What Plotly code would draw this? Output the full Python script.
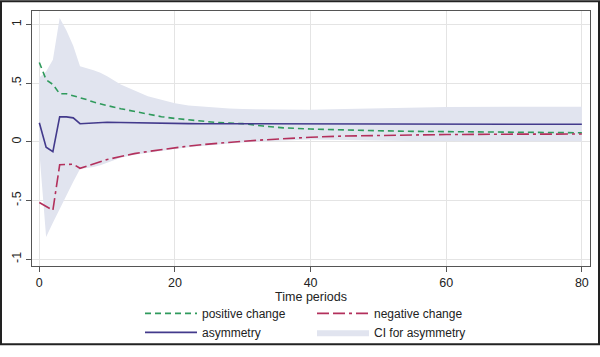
import plotly.graph_objects as go

# ---- data ----
periods = [0, 1, 2, 3, 4, 5, 6, 7, 8, 9, 10, 12, 14, 16, 18, 20, 22, 24, 26, 28,
           30, 33, 36, 40, 45, 50, 55, 60, 70, 80]
positive_change = [0.677, 0.53, 0.49, 0.41, 0.41, 0.395, 0.38, 0.36, 0.34, 0.322, 0.31,
                   0.283, 0.26, 0.235, 0.215, 0.2, 0.187, 0.175, 0.166, 0.16,
                   0.156, 0.135, 0.12, 0.11, 0.1, 0.095, 0.09, 0.087, 0.082, 0.078]
negative_change = [-0.517, -0.55, -0.583, -0.195, -0.19, -0.19, -0.225, -0.205, -0.185, -0.165, -0.15,
                   -0.125, -0.1, -0.082, -0.065, -0.05, -0.035, -0.023, -0.012, -0.003,
                   0.005, 0.017, 0.027, 0.04, 0.05, 0.055, 0.06, 0.063, 0.066, 0.067]
asymmetry = [0.163, -0.045, -0.084, 0.213, 0.213, 0.205, 0.155, 0.158, 0.16, 0.165, 0.168,
             0.165, 0.162, 0.16, 0.158, 0.157, 0.156, 0.155, 0.155, 0.155,
             0.155, 0.153, 0.152, 0.152, 0.151, 0.15, 0.15, 0.15, 0.15, 0.15]
ci_upper = [0.55, 0.6, 0.7, 1.056, 0.95, 0.82, 0.645, 0.63, 0.61, 0.59, 0.56,
            0.49, 0.44, 0.39, 0.36, 0.33, 0.31, 0.3, 0.29, 0.285,
            0.28, 0.277, 0.275, 0.275, 0.28, 0.287, 0.293, 0.298, 0.3, 0.3]
ci_lower = [-0.08, -0.81, -0.69, -0.57, -0.45, -0.34, -0.23, -0.225, -0.215, -0.2, -0.18,
            -0.135, -0.11, -0.092, -0.075, -0.06, -0.045, -0.033, -0.022, -0.013,
            -0.005, 0.005, 0.012, 0.02, 0.015, 0.01, 0.008, 0.007, 0.006, 0.005]

x_ticks = [0, 20, 40, 60, 80]
y_ticks = [-1, -0.5, 0, 0.5, 1]
y_tick_labels = ["-1", "-.5", "0", ".5", "1"]

GREEN = "#2f9a5c"
RED = "#b3305c"
PURPLE = "#433a8c"
BAND = "#e1e4ef"
FONT = "Liberation Sans, Arial, sans-serif"

fig = go.Figure()

fig.add_trace(go.Scatter(x=periods, y=ci_upper, mode="lines", line=dict(width=0),
                         showlegend=False, hoverinfo="skip"))
fig.add_trace(go.Scatter(x=periods, y=ci_lower, mode="lines", line=dict(width=0),
                         fill="tonexty", fillcolor=BAND, name="CI for asymmetry",
                         legend="legend2", legendrank=2))
fig.add_trace(go.Scatter(x=periods, y=positive_change, mode="lines", name="positive change",
                         line=dict(color=GREEN, width=1.6, dash="6px,4px"),
                         legend="legend", legendrank=1))
fig.add_trace(go.Scatter(x=periods, y=negative_change, mode="lines", name="negative change",
                         line=dict(color=RED, width=1.6, dash="12px,4px,12px,4px,3px,4px"),
                         legend="legend2", legendrank=1))
fig.add_trace(go.Scatter(x=periods, y=asymmetry, mode="lines", name="asymmetry",
                         line=dict(color=PURPLE, width=1.6),
                         legend="legend", legendrank=2))

W, H = 600, 357
ml, mr, mt, mb = 32, 10, 11, 82
pw, ph = W - ml - mr, H - mt - mb

legend_common = dict(orientation="v", yanchor="top", xanchor="left",
                     font=dict(family=FONT, size=12, color="#222"),
                     bgcolor="rgba(0,0,0,0)", borderwidth=0, itemwidth=52,
                     tracegroupgap=0, traceorder="normal")

fig.update_layout(
    width=W, height=H,
    margin=dict(l=ml, r=mr, t=mt, b=mb),
    paper_bgcolor="white", plot_bgcolor="white",
    font=dict(family=FONT, size=12, color="#222"),
    legend=dict(x=(140 - ml) / pw, y=1 - (309 - mt) / ph, **legend_common),
    legend2=dict(x=(312 - ml) / pw, y=1 - (309 - mt) / ph, **legend_common),
    xaxis=dict(range=[-1.08, 81.2], tickvals=x_ticks, showgrid=True, gridcolor="#e4e4e4",
               gridwidth=1, zeroline=False, showline=True, linecolor="#555", linewidth=1.2,
               mirror=True, ticks="outside", ticklen=5, tickcolor="#555",
               tickfont=dict(size=12.5, color="#222"),
               title=dict(text="Time periods", font=dict(size=12.5, color="#222"), standoff=1)),
    yaxis=dict(range=[-1.058, 1.116], tickvals=y_ticks, ticktext=y_tick_labels,
               tickangle=-90, showgrid=True, gridcolor="#e4e4e4", gridwidth=1,
               zeroline=False, showline=True, linecolor="#555", linewidth=1.2, mirror=True,
               ticks="outside", ticklen=5, tickcolor="#555",
               tickfont=dict(size=12.5, color="#222")),
    shapes=[dict(type="rect", xref="paper", yref="paper",
                 x0=(1 - ml) / pw, x1=(W - 1 - ml) / pw,
                 y0=1 - (H - 1 - mt) / ph, y1=1 - (1 - mt) / ph,
                 line=dict(color="#222", width=2), fillcolor="rgba(0,0,0,0)", layer="above")],
)

fig.write_html("out.html", config={"displayModeBar": False},
               post_script="document.body.style.margin='0';document.body.style.overflow='hidden';")
